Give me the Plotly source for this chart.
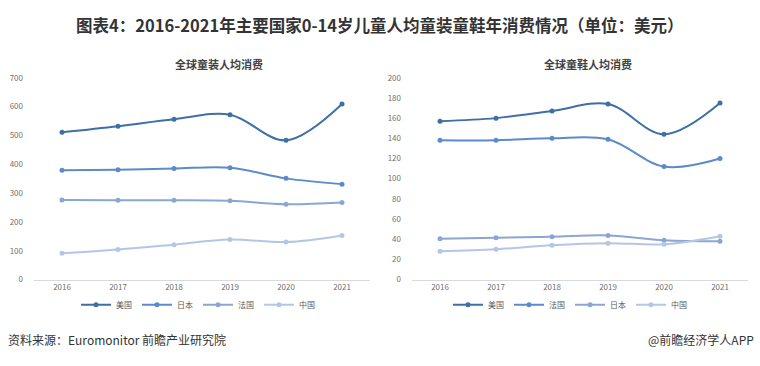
import plotly.graph_objects as go

years = ["2016", "2017", "2018", "2019", "2020", "2021"]

# 全球童装人均消费 (left)
cloth_us = [511, 532, 556, 572, 483, 609]
cloth_jp = [379, 381, 385, 388, 351, 331]
cloth_fr = [276, 275, 275, 273, 261, 267]
cloth_cn = [91, 104, 121, 139, 130, 153]

# 全球童鞋人均消费 (right)
shoe_us = [157, 160, 167, 174, 144, 175]
shoe_fr = [138, 138, 140, 139, 112, 120]
shoe_jp = [40.5, 41.5, 42.4, 43.7, 39, 38]
shoe_cn = [28, 30, 34, 36, 35, 43]

C_US = "#3E6FA5"
C_2 = "#5B8BC8"
C_3 = "#8CA6D2"
C_CN = "#B3C7E5"

FONT = "Noto Sans CJK SC, Noto Sans, sans-serif"

fig = go.Figure()

def add(x, y, name, color, xa, ya, legend):
    fig.add_trace(go.Scatter(
        x=x, y=y, name=name, mode="lines+markers",
        line=dict(color=color, width=2, shape="spline", smoothing=1),
        marker=dict(color=color, size=5),
        xaxis=xa, yaxis=ya, legend=legend,
    ))

add(years, cloth_us, "美国", C_US, "x", "y", "legend")
add(years, cloth_jp, "日本", C_2, "x", "y", "legend")
add(years, cloth_fr, "法国", C_3, "x", "y", "legend")
add(years, cloth_cn, "中国", C_CN, "x", "y", "legend")

add(years, shoe_us, "美国", C_US, "x2", "y2", "legend2")
add(years, shoe_fr, "法国", C_2, "x2", "y2", "legend2")
add(years, shoe_jp, "日本", C_3, "x2", "y2", "legend2")
add(years, shoe_cn, "中国", C_CN, "x2", "y2", "legend2")

W, H = 760, 366
ybot = 1 - 282 / H
ytop = 1 - 74 / H

xcommon = dict(type="category", range=[-0.5, 5.5], showgrid=False, zeroline=False,
               showline=True, linecolor="#D9D9D9", linewidth=1, ticks="",
               tickfont=dict(size=8, color="#707070", family=FONT))
ycommon = dict(showgrid=False, zeroline=False, showline=False, ticks="",
               tickfont=dict(size=8, color="#707070", family=FONT),
               ticklabelstandoff=10)

legcommon = dict(orientation="h", xref="paper", yref="paper", yanchor="middle",
                 xanchor="center", font=dict(size=8, color="#595959", family=FONT),
                 bgcolor="rgba(0,0,0,0)", itemwidth=30, tracegroupgap=0,
                 entrywidth=16, entrywidthmode="pixels")

fig.update_layout(
    width=W, height=H,
    margin=dict(l=0, r=0, t=0, b=0),
    paper_bgcolor="white", plot_bgcolor="white",
    showlegend=True,
    xaxis=dict(domain=[34 / W, 370 / W], anchor="y", **xcommon),
    yaxis=dict(domain=[ybot, ytop], range=[0, 700], dtick=100, anchor="x", **ycommon),
    xaxis2=dict(domain=[412 / W, 748 / W], anchor="y2", **xcommon),
    yaxis2=dict(domain=[ybot, ytop], range=[0, 200], dtick=20, anchor="x2", **ycommon),
    legend=dict(x=198 / W, y=1 - 308 / H, **legcommon),
    legend2=dict(x=570 / W, y=1 - 308 / H, **legcommon),
    annotations=[
        dict(text="<b>图表4：2016-2021年主要国家0-14岁儿童人均童装童鞋年消费情况（单位：美元）</b>",
             x=0.5, y=1 - 20 / H, xref="paper", yref="paper", showarrow=False,
             xanchor="center", yanchor="middle",
             font=dict(size=16.5, color="#333333", family=FONT)),
        dict(text="<b>全球童装人均消费</b>", x=219 / W, y=1 - 60 / H, xref="paper", yref="paper",
             showarrow=False, xanchor="center", yanchor="middle",
             font=dict(size=11, color="#404040", family=FONT)),
        dict(text="<b>全球童鞋人均消费</b>", x=588 / W, y=1 - 60 / H, xref="paper", yref="paper",
             showarrow=False, xanchor="center", yanchor="middle",
             font=dict(size=11, color="#404040", family=FONT)),
        dict(text="资料来源：Euromonitor 前瞻产业研究院", x=6 / W, y=1 - 344 / H,
             xref="paper", yref="paper", showarrow=False, xanchor="left", yanchor="middle",
             font=dict(size=12, color="#333333", family=FONT)),
        dict(text="@前瞻经济学人APP", x=756 / W, y=1 - 344 / H,
             xref="paper", yref="paper", showarrow=False, xanchor="right", yanchor="middle",
             font=dict(size=12, color="#333333", family=FONT)),
    ],
)

fig.write_html("out.html", config={"displayModeBar": False},
               post_script="document.body.style.margin='0';document.body.style.overflow='hidden';")
